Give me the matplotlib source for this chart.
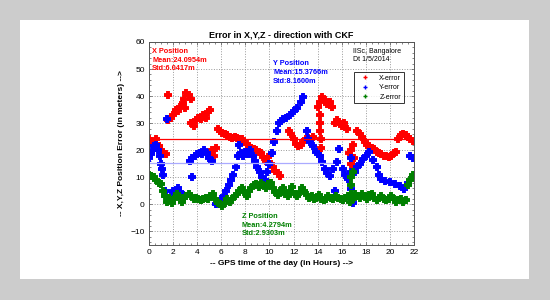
import matplotlib
matplotlib.use("Agg")
import matplotlib.pyplot as plt
from matplotlib.patches import Rectangle

plt.rcParams["font.family"] = ["Liberation Sans", "DejaVu Sans"]

# ---- data ----
x_time = [0.0, 0.2, 0.4, 0.6, 0.8, 1.0, 1.2, 1.4,
          1.6, 1.8, 2.0, 2.2, 2.4, 2.6, 2.8, 3.0,
          1.6, 2.9, 3.1, 3.3, 3.5,
          3.5, 3.7, 3.9, 4.1, 4.3, 4.5, 4.7, 4.9, 5.1,
          5.0, 5.2, 5.4, 5.6,
          5.7, 5.9, 6.1, 6.3, 6.5, 6.7, 6.9, 7.1, 7.3, 7.5, 7.7, 7.9, 8.1, 8.3, 8.5,
          8.7, 8.9, 9.1, 9.3, 9.5, 9.7, 9.9, 10.1, 10.3, 10.5, 10.7, 10.9,
          11.6, 11.8, 12.0, 12.2, 12.4, 12.6, 12.8, 13.0, 13.2, 13.4, 13.6,
          14.0, 14.2, 14.4, 14.6, 14.8, 15.0, 15.2,
          14.2, 14.2, 14.2, 14.3, 14.3, 14.2,
          15.4, 15.6, 15.8, 16.0, 16.2, 16.4,
          16.6, 16.8, 16.8, 17.0, 17.0, 16.9,
          17.3, 17.5, 17.7, 17.9, 18.1, 18.3, 18.5, 18.7, 18.9, 19.1, 19.3, 19.5,
          19.7, 19.9, 20.1, 20.3, 20.5,
          20.7, 20.9, 21.1, 21.3, 21.5, 21.7, 21.9]
x_err = [24, 23.5, 22.5, 24, 21.5, 20, 19, 18.5,
         31, 32, 33, 35, 34.5, 36, 37.5, 35.5,
         40.5, 39, 41, 40.5, 39,
         30, 29, 31, 32, 31.5, 33, 32, 34, 35,
         19, 20, 18, 21,
         28, 27, 26.5, 26, 25.5, 25, 24.5, 25, 24.5, 24, 24, 23, 22.5, 21.5, 21,
         20.5, 20, 19.5, 19, 17.5, 16, 17.5, 15, 14, 12.5, 11.5, 10.5,
         27, 26, 24, 22.5, 21.5, 22, 23, 24, 24.5, 24, 25,
         36, 38, 39.5, 38.5, 37, 38, 36,
         33, 30, 27, 24, 21, 18,
         30, 31, 30.5, 29, 30, 28,
         19, 15, 20, 17, 13, 22,
         27, 26, 25, 23, 22, 21.5, 21, 20.5, 19.5, 19, 18.5, 18,
         18, 17.5, 18, 19, 19.5,
         24, 25.5, 26, 25.5, 25, 24, 23.5]

y_time = [0.0, 0.15, 0.3, 0.45, 0.6, 0.75, 0.9, 1.0, 1.1, 1.2,
          1.5, 1.3, 1.4, 1.6, 1.8, 2.0, 2.2, 2.4, 2.6, 2.8,
          3.4, 3.6, 3.8, 4.0, 4.2, 4.4, 4.6, 4.8, 5.0, 5.2, 3.6,
          5.6, 5.8, 6.0, 6.2, 6.4, 6.6, 6.8, 7.0, 7.2, 7.4, 7.5, 7.6, 7.8, 8.0,
          8.2, 8.4, 8.6, 8.8, 9.0, 9.2, 9.4, 9.6,
          9.8, 10.0, 10.2, 10.4, 10.6, 10.8, 11.1, 11.4, 11.7, 12.0, 12.3, 12.6, 12.8,
          13.1, 13.2, 13.4, 13.6, 13.9, 14.2, 14.4, 14.6, 14.8, 15.0, 15.3, 15.6, 15.8,
          16.1, 16.3, 16.5, 16.8, 16.8, 16.8, 16.9, 15.4,
          17.1, 17.3, 17.5, 17.8, 18.0, 18.3, 18.6, 18.9, 19.1, 19.3, 19.6, 20.0,
          20.4, 20.8, 21.2, 21.5, 21.7, 21.9]
y_err = [17, 18.5, 20, 21.5, 22, 20, 18, 15, 13, 11,
         31.5, 5, 3, 1.5, 3, 5, 4, 6, 4.5, 3.5,
         16, 17, 18, 18.5, 19, 18.5, 20, 19, 17, 16, 10,
         0, 1, 2, 3, 5, 7, 9, 11, 14, 18, 22, 19, 18, 19.5,
         18.5, 20, 18, 16, 14, 12, 10, 9,
         12, 15, 19, 23, 27, 30, 31.5, 32, 33, 34.5, 35.5, 38, 39.5,
         27, 24, 23, 21.5, 19.5, 17.8, 15.5, 13, 11.5, 10.5, 13, 15.6, 20.4,
         13, 11, 9.3, 5.6, 12, 17, 0.7, 5,
         12, 14, 15, 16.7, 18, 19.3, 16.5, 14, 11, 9.3, 8.5, 8.2,
         7.5, 6.7, 5.6, 8, 17.8, 17]

z_time = [0.0, 0.2, 0.4, 0.6, 0.8, 1.0, 1.2, 1.3, 1.5, 1.7, 1.9, 2.1, 2.3, 2.5, 2.7,
          2.9, 3.1, 3.3, 3.5, 3.7, 3.9, 4.1, 4.3, 4.5, 4.7, 4.9, 5.1, 5.3, 5.5, 5.7,
          5.9, 6.1, 6.3, 6.5, 6.7, 6.9, 7.1, 7.3, 7.5, 7.7, 7.9, 8.1, 8.3, 8.5, 8.7,
          8.9, 9.1, 9.3, 9.5, 9.7, 9.9, 10.1, 10.3, 10.5, 10.7, 10.9, 11.1, 11.3, 11.5,
          11.7, 11.9, 12.1, 12.3, 12.5, 12.7, 12.9, 13.1, 13.3, 13.5, 13.7, 13.9, 14.1,
          14.3, 14.5, 14.7, 14.9, 15.1, 15.3, 15.5, 15.7, 15.9, 16.1, 16.3, 16.5, 16.7,
          16.8, 16.8, 16.8, 16.9, 16.9, 17.1, 17.3, 17.5, 17.7, 17.9, 18.1, 18.3, 18.5,
          18.7, 18.9, 19.1, 19.3, 19.5, 19.7, 19.9, 20.1, 20.3, 20.5, 20.7, 20.9, 21.1,
          21.3, 21.5, 21.7, 21.9]
z_err = [11, 10.5, 10, 9, 8, 7.5, 5, 3, 1, 2.5, 0.5, 2, 4, 3, 1,
         2.5, 3, 4, 3, 2, 2.5, 2, 1.5, 2, 2.5, 2, 3, 4, 2, 0.5,
         0, -0.5, 0.5, 2, 1, 2, 3, 4, 5, 6, 4.5, 3, 5, 6, 7,
         7.5, 6.5, 8, 7, 6, 7.5, 8, 6, 4.5, 3.5, 5, 6, 4, 3,
         5, 6.5, 4, 3, 4.5, 6, 5, 3.5, 2.5, 3, 2, 2.5, 3.5,
         2, 1.5, 2, 3, 2.5, 2, 3, 2.5, 2, 1.5, 2.5, 3, 1,
         4, 7, 10, 12, 2, 4, 3, 2.5, 4, 3, 2, 3.5, 4,
         2.5, 1.5, 2.5, 3, 2, 1.5, 2, 3, 2, 1, 1.5, 2, 1,
         1.5, 7, 9, 11]

x_mean, y_mean = 24.0954, 15.3766
y_mean_end = 15.2

x_ticks = list(range(0, 23, 2))
y_ticks = list(range(-10, 61, 10))

# ---- figure ----
fig = plt.figure(figsize=(5.5, 3.0), dpi=100)
fig.patch.set_facecolor("#cccccc")
fig.add_artist(Rectangle((20/550, 21/300), 509/550, 259/300, transform=fig.transFigure,
                         facecolor="white", edgecolor="none", zorder=-5))

ax = fig.add_axes([149/550, 55/300, 265/550, 203/300])
ax.set_zorder(1)
ax.set_xlim(0, 22)
ax.set_ylim(-15, 60)

ms, mew = 5.5, 2.8
ax.plot(x_time, x_err, linestyle="none", marker="+", color="red", ms=ms, mew=mew, label="X-error")
ax.plot(y_time, y_err, linestyle="none", marker="+", color="blue", ms=ms, mew=mew, label="Y-error")
ax.plot(z_time, z_err, linestyle="none", marker="+", color="green", ms=ms, mew=mew, label="Z-error")

ax.plot([0, 22], [x_mean, x_mean], color="red", lw=0.9)
ax.plot([0, y_mean_end], [y_mean, y_mean], color="#aaaaff", lw=0.9)

ax.set_xticks(x_ticks)
ax.set_yticks(y_ticks)
ax.minorticks_on()
ax.tick_params(which="both", direction="in", top=True, right=True, labelsize=6, color="#555555", pad=3)
ax.tick_params(which="major", length=2.5, width=0.5)
ax.tick_params(which="minor", length=1.5, width=0.5)
ax.grid(True, which="major", linestyle=":", color="#999999", lw=0.7)
for s in ax.spines.values():
    s.set_color("#555555")
    s.set_linewidth(0.7)

ax.set_title("Error in X,Y,Z - direction with CKF", fontsize=6.5, fontweight="bold", pad=3)
ax.set_xlabel("-- GPS time of the day (in Hours) -->", fontsize=6, fontweight="bold", labelpad=3)
ax.set_ylabel("-- X,Y,Z Position Error (in meters) -->", fontsize=6, fontweight="bold", labelpad=4)

fs = 5.3
for i, s in enumerate(["X Position", "Mean:24.0954m", "Std:6.0417m"]):
    ax.text(0.25, 56.5 - i * 3.2, s, color="red", fontsize=fs, fontweight="bold", va="center")
for i, s in enumerate(["Y Position", "Mean:15.3766m", "Std:8.1600m"]):
    ax.text(10.3, 52 - i * 3.3, s, color="blue", fontsize=fs, fontweight="bold", va="center")
for i, s in enumerate(["Z Position", "Mean:4.2794m", "Std:2.9303m"]):
    ax.text(7.7, -4.5 - i * 3.2, s, color="green", fontsize=fs, fontweight="bold", va="center")
ax.text(16.9, 56.5, "IISc, Bangalore", fontsize=5, va="center")
ax.text(16.9, 53.5, "Dt 1/5/2014", fontsize=5, va="center")

leg = ax.legend(loc="upper right", bbox_to_anchor=(0.975, 0.87), fontsize=5, frameon=True,
                fancybox=False, edgecolor="black", handlelength=2.5, borderpad=0.4,
                labelspacing=0.35, handletextpad=0.8)
for h in leg.legend_handles:
    h.set_markersize(3)
    h.set_markeredgewidth(1)
leg.get_frame().set_linewidth(0.7)

fig.savefig("out.png", dpi=100, facecolor=fig.get_facecolor())
